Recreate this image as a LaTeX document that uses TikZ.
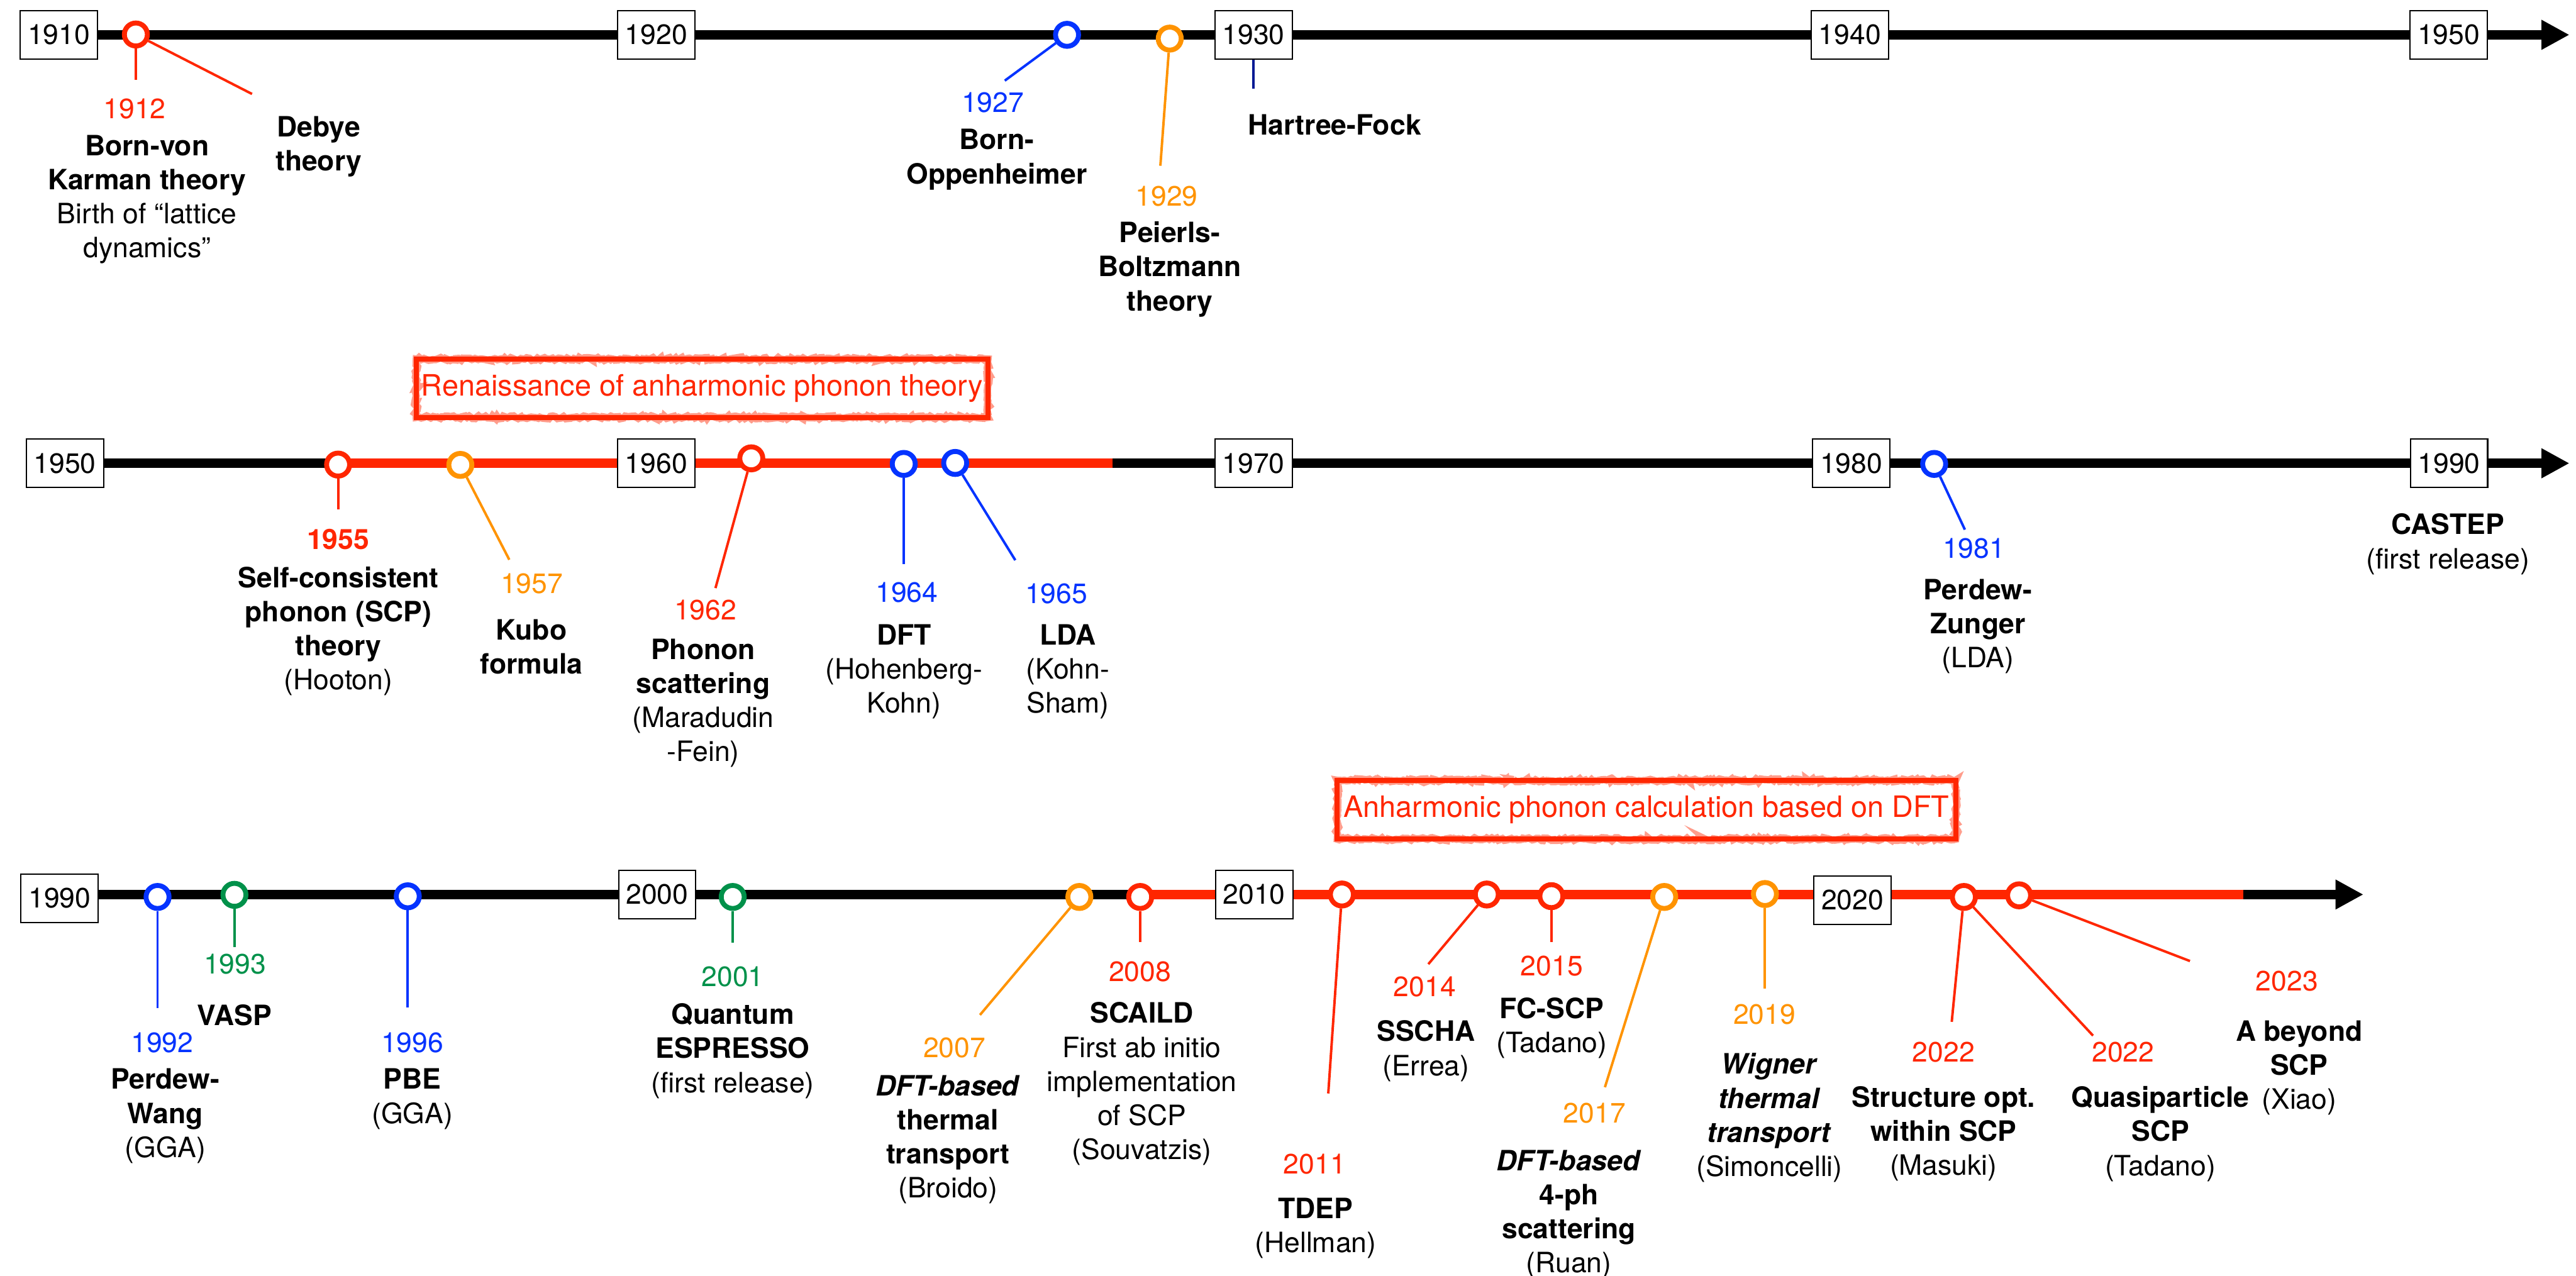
\documentclass[tikz,border=0pt]{standalone}
\usepackage{fontspec}
\setmainfont{TeX Gyre Heros}
\usepackage{tikz}
\usetikzlibrary{arrows.meta,decorations.pathmorphing}
\definecolor{kred}{HTML}{FF2600}
\definecolor{korange}{HTML}{FF9300}
\definecolor{kblue}{HTML}{0433FF}
\definecolor{kgreen}{HTML}{00914A}
\definecolor{knavy}{HTML}{011993}
\newcommand\evfont{\fontsize{9.7}{11.8}\selectfont}

\begin{document}
\begin{tikzpicture}[
x=0.02cm,y=-0.02cm,
axis/.style={line width=0.11cm},
yearbox/.style={draw,fill=white,line width=0.45pt,minimum width=0.94cm,
minimum height=0.59cm,inner sep=0pt,font=\evfont},
ev/.style={circle,draw=#1,fill=white,line width=0.06cm,
minimum size=0.28cm,inner sep=0pt},
lnk/.style={draw=#1,line width=0.03cm},
yr/.style={inner sep=0pt,font=\evfont,text=#1},
desc/.style={align=center,anchor=north,inner sep=0pt,font=\evfont},
era/.style={draw=kred,line width=0.06cm,text=kred,inner sep=0pt,
preaction={draw=kred,opacity=0.45,line width=0.09cm,decorate,
decoration={random steps,segment length=0.8pt,amplitude=0.5pt}},
font=\fontsize{10.2}{12}\selectfont}
]
\pgfmathsetseed{7}
\useasboundingbox (0,0) rectangle (1568,776.4);

% time axes
\coordinate (a1s) at (35.8,21.2);  \coordinate (a1e) at (1564,21.2);
\coordinate (a2s) at (39.5,282);   \coordinate (a2e) at (1564,282);
\coordinate (a3s) at (36.3,544.5); \coordinate (a3e) at (1438.6,544.5);
\coordinate (r2s) at (205.8,282);  \coordinate (r2e) at (677.2,282);
\coordinate (r3s) at (694,544.5);  \coordinate (r3e) at (1365.3,544.5);
\foreach \s/\e in {a1s/a1e,a2s/a2e,a3s/a3e}
\draw[axis,-{Triangle[length=0.34cm,width=0.34cm]}] (\s) -- (\e);
\foreach \s/\e in {r2s/r2e,r3s/r3e}
\draw[axis,kred] (\s) -- (\e);

% eras
\node[era,minimum width=6.96cm,minimum height=0.71cm] (ren) at (427.4,236.3)
{Renaissance of anharmonic phonon theory};
\node[era,minimum width=7.53cm,minimum height=0.716cm] (dftera) at (1002.2,492.9)
{Anharmonic phonon calculation based on DFT};

% decade boxes
\foreach \n/\x/\y/\t in {t1910/35.8/21.2/1910,t1920/399.4/21.2/1920,
t1930/763/21.2/1930,t1940/1126/21.2/1940,t1950/1490.5/21.2/1950,
m1950/39.5/282/1950,m1960/399.4/282/1960,m1970/763/282/1970,
m1980/1126.8/282/1980,m1990/1490.7/282/1990,
u1990/36.3/546.8/1990,u2000/400/544.4/2000,u2010/763.4/544.4/2010,
u2020/1127.6/548/2020}
\node[yearbox] (\n) at (\x,\y) {\t};

% events
\node[ev=kred]    (c1912) at (82.7,21) {};
\node[ev=kblue]   (c1927) at (649.5,21.2) {};
\node[ev=korange] (c1929) at (712,23.5) {};
\node[ev=kred]    (c1955) at (205.8,282.8) {};
\node[ev=korange] (c1957) at (280.2,283) {};
\node[ev=kred]    (c1962) at (457.3,279) {};
\node[ev=kblue]   (c1964) at (550.1,282.4) {};
\node[ev=kblue]   (c1965) at (581.4,281.8) {};
\node[ev=kblue]   (c1981) at (1177.3,282.4) {};
\node[ev=kblue]   (c1992) at (95.9,546) {};
\node[ev=kgreen]  (c1993) at (142.7,544.7) {};
\node[ev=kblue]   (c1996) at (248.2,545.6) {};
\node[ev=kgreen]  (c2001) at (446,546) {};
\node[ev=korange] (c2007) at (657,546) {};
\node[ev=kred]    (c2008) at (694,546) {};
\node[ev=kred]    (c2011) at (816.8,544.5) {};
\node[ev=kred]    (c2014) at (905,544.5) {};
\node[ev=kred]    (c2015) at (944.3,545.5) {};
\node[ev=korange] (c2017) at (1013,546) {};
\node[ev=korange] (c2019) at (1074.3,544.2) {};
\node[ev=kred]    (c2022) at (1195.4,546) {};
\node[ev=kred]    (c2023) at (1229,545) {};

% connector ends
\coordinate (l1912) at (82.7,48.6);   \coordinate (ldeb) at (153.4,57.2);
\coordinate (l1927) at (611.6,49.1);  \coordinate (l1929) at (706.3,100.9);
\coordinate (lhf) at (763,53.8);
\coordinate (l1955) at (205.8,310.2); \coordinate (l1957) at (310,340.7);
\coordinate (l1962) at (435.5,358);   \coordinate (l1964) at (550.1,343.4);
\coordinate (l1965) at (618,341);     \coordinate (l1981) at (1196,322.4);
\coordinate (l1992) at (95.9,613.6);  \coordinate (l1993) at (142.7,576.7);
\coordinate (l1996) at (248.2,613.2); \coordinate (l2001) at (446,574);
\coordinate (l2007) at (596.5,617.8); \coordinate (l2008) at (694,573.4);
\coordinate (l2011) at (808.5,665.6); \coordinate (l2014) at (869.4,586.9);
\coordinate (l2015) at (944.3,573.4); \coordinate (l2017) at (976.9,661.8);
\coordinate (l2019) at (1074.3,601.6);\coordinate (l2022a) at (1188,622);
\coordinate (l2022b) at (1274,630.4); \coordinate (l2023) at (1333,585);

\foreach \a/\b/\c in {c1912/l1912/kred,c1912/ldeb/kred,c1927/l1927/kblue,
c1929/l1929/korange,t1930/lhf/knavy,c1955/l1955/kred,c1957/l1957/korange,
c1962/l1962/kred,c1964/l1964/kblue,c1965/l1965/kblue,c1981/l1981/kblue,
c1992/l1992/kblue,c1993/l1993/kgreen,c1996/l1996/kblue,c2001/l2001/kgreen,
c2007/l2007/korange,c2008/l2008/kred,c2011/l2011/kred,c2014/l2014/kred,
c2015/l2015/kred,c2017/l2017/korange,c2019/l2019/korange,
c2022/l2022a/kred,c2022/l2022b/kred,c2023/l2023/kred}
\draw[lnk=\c] (\a) -- (\b);

% years
\node[yr=kred]    (y1912) at (82,66.3) {1912};
\node[yr=kblue]   (y1927) at (604.3,62.4) {1927};
\node[yr=korange] (y1929) at (710.2,119.5) {1929};
\node[yr=kred]    (y1955) at (205.8,328.2) {\textbf{1955}};
\node[yr=korange] (y1957) at (323.7,355.2) {1957};
\node[yr=kred]    (y1962) at (429.4,371.5) {1962};
\node[yr=kblue]   (y1964) at (552,360.5) {1964};
\node[yr=kblue]   (y1965) at (643,361.3) {1965};
\node[yr=kblue]   (y1981) at (1201.5,333.8) {1981};
\node[yr=kblue]   (y1992) at (98.7,634.8) {1992};
\node[yr=kgreen]  (y1993) at (143,587) {1993};
\node[yr=kblue]   (y1996) at (251,634.8) {1996};
\node[yr=kgreen]  (y2001) at (446,594.4) {2001};
\node[yr=korange] (y2007) at (581,637.6) {2007};
\node[yr=kred]    (y2008) at (693.9,591.3) {2008};
\node[yr=kred]    (y2011) at (800.2,708.6) {2011};
\node[yr=kred]    (y2014) at (867.2,600.8) {2014};
\node[yr=kred]    (y2015) at (944.5,588) {2015};
\node[yr=korange] (y2017) at (970.6,677.6) {2017};
\node[yr=korange] (y2019) at (1074,617.3) {2019};
\node[yr=kred]    (y2022a) at (1183,640.4) {2022};
\node[yr=kred]    (y2022b) at (1292.3,640.4) {2022};
\node[yr=kred]    (y2023) at (1392,597.3) {2023};

% descriptions
\node[desc] (d1912) at (89.5,81.9) {\textbf{Born-von}\\\textbf{Karman theory}\\Birth of “lattice\\dynamics”};
\node[desc] (ddeb) at (194,70.4) {\textbf{Debye}\\\textbf{theory}};
\node[desc] (d1927) at (606.7,78.3) {\textbf{Born-}\\\textbf{Oppenheimer}};
\node[desc] (d1929) at (712,134.6) {\textbf{Peierls-}\\\textbf{Boltzmann}\\\textbf{theory}};
\node[desc] (dhf) at (812.4,69.3) {\textbf{Hartree-Fock}};
\node[desc] (d1955) at (206,344.6) {\textbf{Self-consistent}\\\textbf{phonon (SCP)}\\\textbf{theory}\\(Hooton)};
\node[desc] (d1957) at (323.5,376.8) {\textbf{Kubo}\\\textbf{formula}};
\node[desc] (d1962) at (428,388.5) {\textbf{Phonon}\\\textbf{scattering}\\(Maradudin\\-Fein)};
\node[desc] (d1964) at (550.3,379.8) {\textbf{DFT}\\(Hohenberg-\\Kohn)};
\node[desc] (d1965) at (650,379.8) {\textbf{LDA}\\(Kohn-\\Sham)};
\node[desc] (d1981) at (1204,352.2) {\textbf{Perdew-}\\\textbf{Zunger}\\(LDA)};
\node[desc] (dcas) at (1490,312.4) {\textbf{CASTEP}\\(first release)};
\node[desc] (d1992) at (100.6,650.2) {\textbf{Perdew-}\\\textbf{Wang}\\(GGA)};
\node[desc] (d1993) at (142.7,611.2) {\textbf{VASP}};
\node[desc] (d1996) at (251,650.2) {\textbf{PBE}\\(GGA)};
\node[desc] (d2001) at (446,610.5) {\textbf{Quantum}\\\textbf{ESPRESSO}\\(first release)};
\node[desc] (d2007) at (577,654.1) {\textbf{\textit{DFT-based}}\\\textbf{thermal}\\\textbf{transport}\\(Broido)};
\node[desc] (d2008) at (695,609.8) {\textbf{SCAILD}\\First ab initio\\implementation\\of SCP\\(Souvatzis)};
\node[desc] (d2011) at (800.8,728.9) {\textbf{TDEP}\\(Hellman)};
\node[desc] (d2014) at (868,620.9) {\textbf{SSCHA}\\(Errea)};
\node[desc] (d2015) at (944.5,607.1) {\textbf{FC-SCP}\\(Tadano)};
\node[desc] (d2017) at (955,699.8) {\textbf{\textit{DFT-based}}\\\textbf{4-ph}\\\textbf{scattering}\\(Ruan)};
\node[desc] (d2019) at (1077,640.8) {\textbf{\textit{Wigner}}\\\textbf{\textit{thermal}}\\\textbf{\textit{transport}}\\(Simoncelli)};
\node[desc] (d2022a) at (1183,661) {\textbf{Structure opt.}\\\textbf{within SCP}\\(Masuki)};
\node[desc] (d2022b) at (1315,661) {\textbf{Quasiparticle}\\\textbf{SCP}\\(Tadano)};
\node[desc] (d2023) at (1399.5,620.9) {\textbf{A beyond}\\\textbf{SCP}\\(Xiao)};
\end{tikzpicture}
\end{document}
